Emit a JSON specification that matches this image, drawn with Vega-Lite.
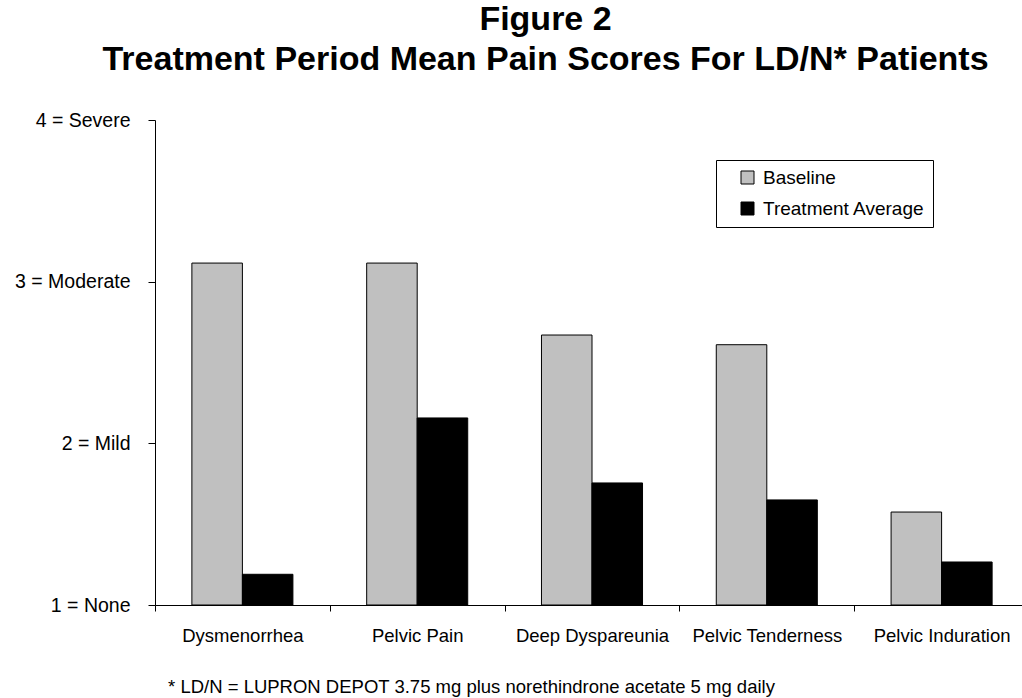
{"$schema":"https://vega.github.io/schema/vega-lite/v6.json","width":867,"height":485,"autosize":{"type":"none"},"padding":{"left":155,"top":120,"right":0,"bottom":93},"background":"white","title":{"text":["Figure 2","Treatment Period Mean Pain Scores For LD/N* Patients"],"font":"Liberation Sans","fontSize":34,"fontWeight":"bold","color":"black","anchor":"middle","dx":-43,"offset":33,"lineHeight":40},"data":{"values":[{"symptom":"Dysmenorrhea","period":"Baseline","score":3.115},{"symptom":"Dysmenorrhea","period":"Treatment Average","score":1.19},{"symptom":"Pelvic Pain","period":"Baseline","score":3.115},{"symptom":"Pelvic Pain","period":"Treatment Average","score":2.157},{"symptom":"Deep Dyspareunia","period":"Baseline","score":2.67},{"symptom":"Deep Dyspareunia","period":"Treatment Average","score":1.755},{"symptom":"Pelvic Tenderness","period":"Baseline","score":2.61},{"symptom":"Pelvic Tenderness","period":"Treatment Average","score":1.65},{"symptom":"Pelvic Induration","period":"Baseline","score":1.575},{"symptom":"Pelvic Induration","period":"Treatment Average","score":1.266}]},"mark":{"type":"bar","stroke":"black","strokeWidth":1},"encoding":{"x":{"field":"symptom","type":"nominal","sort":null,"scale":{"paddingInner":0,"paddingOuter":0,"range":[0,874]},"axis":{"title":"* LD/N = LUPRON DEPOT 3.75 mg plus norethindrone acetate 5 mg daily","titleFont":"Liberation Sans","titleFontSize":18.5,"titleFontWeight":"normal","titleColor":"black","titleX":316,"titleY":87,"titleAnchor":"middle","titleBaseline":"alphabetic","labelAngle":0,"labelFont":"Liberation Sans","labelFontSize":18.5,"labelColor":"black","labelPadding":15,"labelOverlap":false,"tickBand":"extent","tickSize":6,"tickColor":"black","domainColor":"black","grid":false}},"xOffset":{"field":"period","type":"nominal","scale":{"paddingInner":0,"paddingOuter":0.73}},"y":{"field":"score","type":"quantitative","scale":{"domain":[1,4],"nice":false,"zero":false},"axis":{"title":null,"values":[1,2,3,4],"labelExpr":"datum.value == 1 ? '1 = None' : datum.value == 2 ? '2 = Mild' : datum.value == 3 ? '3 = Moderate' : '4 = Severe'","labelFont":"Liberation Sans","labelFontSize":19.5,"labelColor":"black","labelPadding":18,"tickSize":7,"tickColor":"black","domainColor":"black","grid":false}},"y2":{"datum":1},"color":{"field":"period","type":"nominal","scale":{"domain":["Baseline","Treatment Average"],"range":["#c0c0c0","#000000"]},"legend":{"title":null,"orient":"none","legendX":561,"legendY":40,"strokeColor":"black","fillColor":"white","padding":8,"symbolOffset":14,"symbolType":"square","symbolSize":169,"symbolStrokeColor":"black","symbolStrokeWidth":1,"labelFont":"Liberation Sans","labelFontSize":19,"labelColor":"black","labelOffset":6,"labelLimit":400,"rowPadding":11,"labelExpr":"datum.label + '\u00a0\u00a0\u00a0'"}}},"config":{"view":{"stroke":null},"axis":{"domainWidth":1,"tickWidth":1}}}
